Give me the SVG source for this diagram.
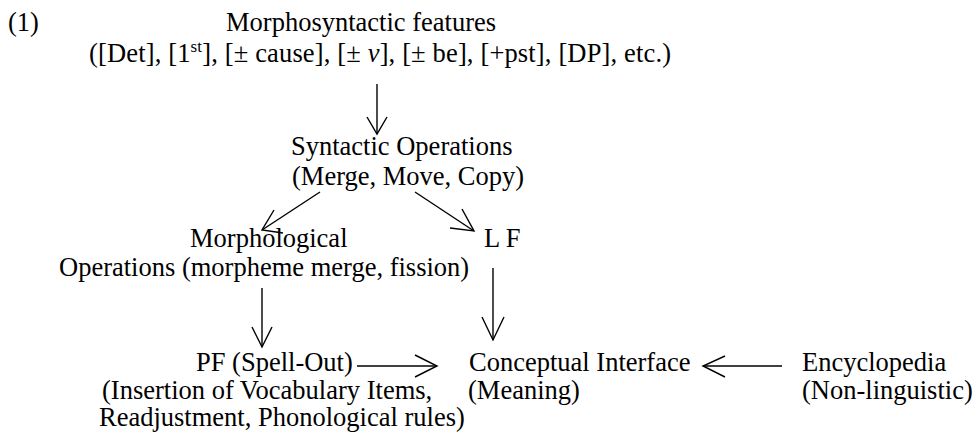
<svg xmlns="http://www.w3.org/2000/svg" width="976" height="433" viewBox="0 0 976 433">
<style>
text{font-family:"Liberation Serif","Times New Roman",serif;font-size:26.5px;fill:#000}
.c line,.c polyline{stroke:#000;stroke-width:1.4;fill:none}
</style>
<rect width="976" height="433" fill="#fff"/>
<text x="8" y="31">(1)</text>
<g id="features">
<text x="226" y="31">Morphosyntactic features</text>
<text x="89" y="62" textLength="582" lengthAdjust="spacing">([Det], [1<tspan font-size="17" dy="-10">st</tspan><tspan dy="10">], [± cause], [± </tspan><tspan font-style="italic">v</tspan>], [± be], [+pst], [DP], etc.)</text>
</g>
<g id="syntax">
<text x="291" y="155">Syntactic Operations</text>
<text x="292" y="185">(Merge, Move, Copy)</text>
</g>
<g id="morph">
<text x="190" y="247">Morphological</text>
<text x="59" y="276">Operations (morpheme merge, fission)</text>
</g>
<g id="lf">
<text x="484" y="247">L F</text>
</g>
<g id="pf">
<text x="196" y="371">PF (Spell-Out)</text>
<text x="102" y="399">(Insertion of Vocabulary Items,</text>
<text x="99" y="426">Readjustment, Phonological rules)</text>
</g>
<g id="ci">
<text x="469" y="371">Conceptual Interface</text>
<text x="468" y="399">(Meaning)</text>
</g>
<g id="ency">
<text x="802" y="371">Encyclopedia</text>
<text x="802" y="399">(Non-linguistic)</text>
</g>
<g id="connectors" class="c">
<line x1="377" y1="84" x2="377" y2="134"/>
<polyline points="367,117 377,134 387,117"/>
<line x1="320" y1="192" x2="262" y2="230"/>
<polyline points="274,210 262,230 283,233"/>
<line x1="415" y1="192" x2="474" y2="231"/>
<polyline points="462,209 474,231 450,228"/>
<line x1="262" y1="288" x2="262" y2="347"/>
<polyline points="252,327 262,347 272,327"/>
<line x1="493" y1="268" x2="493" y2="340"/>
<polyline points="482,317 493,340 504,317"/>
<line x1="357" y1="366" x2="437" y2="366"/>
<polyline points="415,355 437,366 415,377"/>
<line x1="782" y1="366" x2="703" y2="366"/>
<polyline points="725,356 703,366 725,377"/>
</g>
</svg>
